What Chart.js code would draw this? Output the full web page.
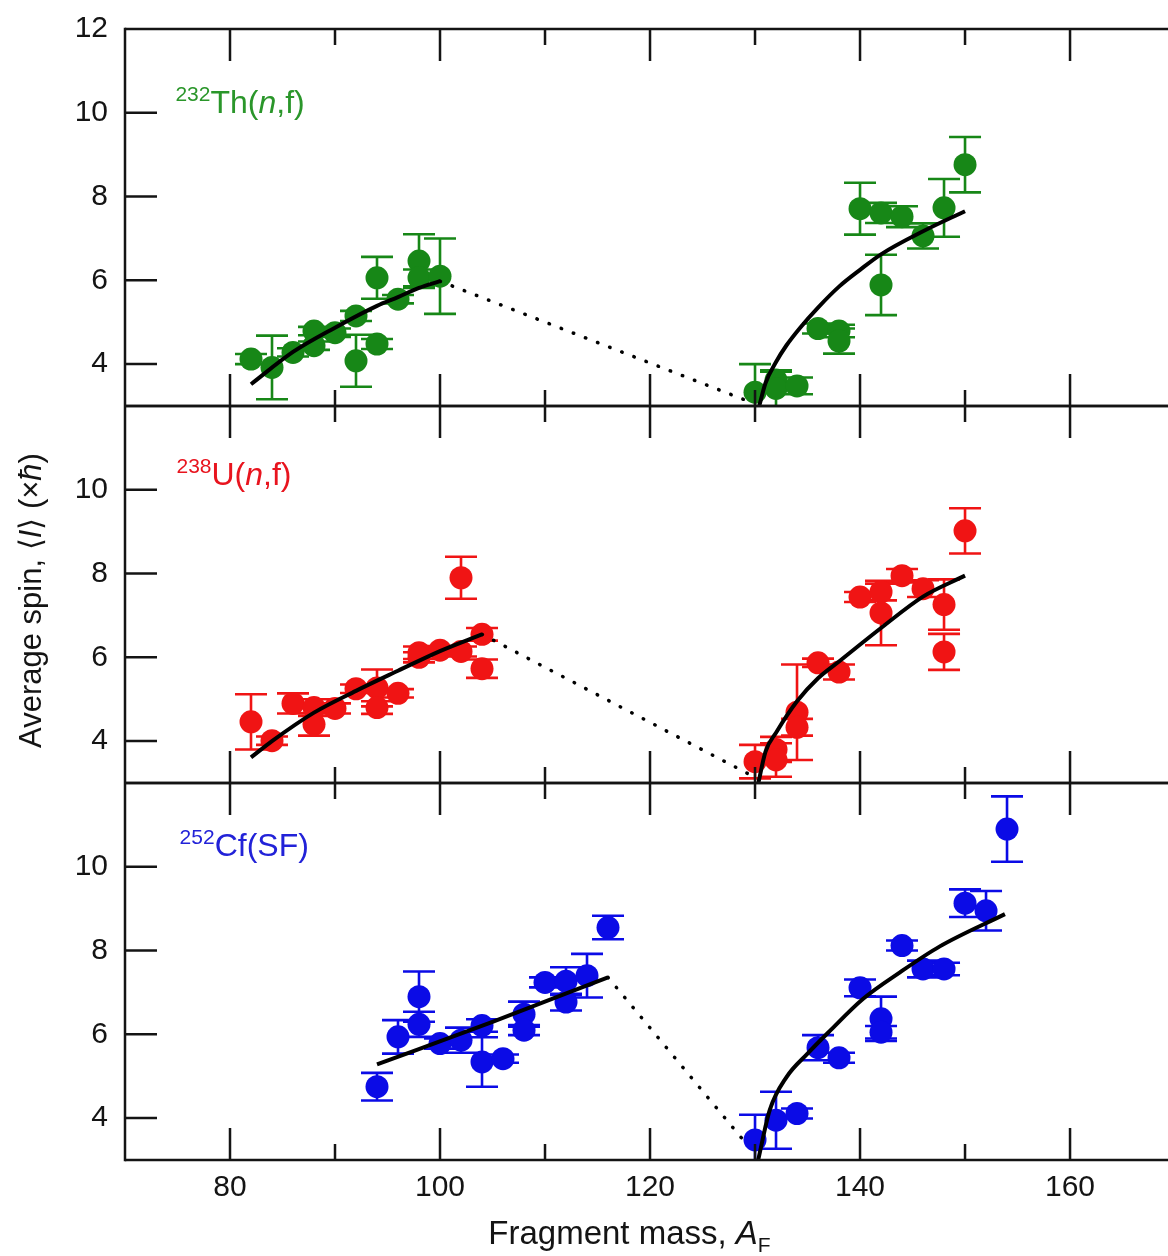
<!DOCTYPE html>
<html>
<head>
<meta charset="utf-8">
<script src="https://cdn.jsdelivr.net/npm/chart.js"></script>
<style>
html, body { margin: 0; padding: 0; background: #fff; }
#wrap { position: relative; width: 1168px; height: 1256px; }
</style>
</head>
<body>
<div id="wrap"><canvas id="spinChart" width="1168" height="1256"></canvas></div>
<script>
// 232Th(n,f): fragment mass, average spin, error
const thMass = [82, 84, 86, 88, 88, 90, 92, 92, 94, 94, 96, 98, 98, 100,
                130, 132, 132, 134, 136, 138, 138, 140, 142, 142, 144, 146, 148, 150];
const thSpin = [4.12, 3.92, 4.28, 4.79, 4.44, 4.75, 5.15, 4.08, 6.06, 4.48, 5.55, 6.46, 6.06, 6.1,
                3.33, 3.62, 3.42, 3.48, 4.85, 4.79, 4.55, 7.71, 7.61, 5.89, 7.52, 7.06, 7.73, 8.76];
const thErr  = [0.12, 0.76, 0.1, 0.1, 0.1, 0.1, 0.12, 0.62, 0.5, 0.12, 0.1, 0.64, 0.2, 0.9,
                0.67, 0.2, 0.43, 0.2, 0.12, 0.15, 0.3, 0.62, 0.24, 0.72, 0.25, 0.3, 0.69, 0.66];

// 238U(n,f)
const uMass = [82, 84, 86, 88, 88, 90, 92, 94, 94, 96, 98, 98, 100, 102, 102, 104, 104,
               130, 132, 132, 134, 134, 136, 138, 140, 142, 142, 144, 146, 148, 148, 150];
const uSpin = [4.46, 4.01, 4.9, 4.8, 4.4, 4.78, 5.25, 5.27, 4.8, 5.14, 6.11, 6.0, 6.17, 7.9, 6.14, 6.55, 5.73,
               3.51, 3.8, 3.55, 4.69, 4.33, 5.87, 5.65, 7.44, 7.56, 7.06, 7.95, 7.64, 7.26, 6.13, 9.02];
const uErr  = [0.66, 0.1, 0.24, 0.2, 0.27, 0.12, 0.1, 0.44, 0.15, 0.1, 0.15, 0.12, 0.1, 0.5, 0.12, 0.15, 0.22,
               0.4, 0.3, 0.4, 1.14, 0.2, 0.1, 0.18, 0.12, 0.2, 0.77, 0.16, 0.2, 0.6, 0.43, 0.54];

// 252Cf(SF)
const cfMass = [94, 96, 98, 98, 100, 102, 104, 104, 106, 108, 108, 110, 112, 112, 114, 116,
                130, 132, 134, 136, 138, 140, 142, 142, 144, 146, 148, 150, 152, 154];
const cfSpin = [4.75, 5.94, 6.9, 6.24, 5.78, 5.86, 6.21, 5.34, 5.42, 6.48, 6.1, 7.24, 7.27, 6.77, 7.4, 8.55,
                3.48, 3.95, 4.11, 5.68, 5.44, 7.11, 6.37, 6.05, 8.12, 7.56, 7.56, 9.13, 8.95, 10.9];
const cfErr  = [0.33, 0.4, 0.6, 0.3, 0.12, 0.3, 0.15, 0.59, 0.1, 0.3, 0.12, 0.12, 0.33, 0.2, 0.52, 0.28,
                0.6, 0.68, 0.12, 0.3, 0.12, 0.2, 0.53, 0.15, 0.12, 0.2, 0.15, 0.33, 0.47, 0.78];

// fit curves (light / heavy fragments) and dotted connectors
const thLightX = [82, 86, 90, 94, 96, 98, 100];
const thLightY = [3.52, 4.29, 4.87, 5.39, 5.6, 5.82, 5.98];
const thHeavyX = [130.4, 131, 132, 133, 134.3, 136, 138, 140, 142, 146, 150];
const thHeavyY = [3.0, 3.55, 4.05, 4.45, 4.87, 5.35, 5.85, 6.25, 6.62, 7.17, 7.65];
const thDotX = [100, 129.5];
const thDotY = [5.98, 3.1];

const uLightX = [82, 84, 88, 92, 96, 100, 104];
const uLightY = [3.61, 4.0, 4.68, 5.2, 5.68, 6.15, 6.55];
const uHeavyX = [130.3, 131, 132, 134, 136, 138, 142, 146, 150];
const uHeavyY = [2.98, 3.75, 4.2, 4.95, 5.5, 5.9, 6.7, 7.45, 7.95];
const uDotX = [104, 129.5];
const uDotY = [6.55, 3.2];

const cfLightX = [94, 105, 116];
const cfLightY = [5.28, 6.3, 7.36];
const cfHeavyX = [130.3, 131.4, 133, 135, 137, 140.3, 143.8, 147.6, 153.8];
const cfHeavyY = [3.0, 4.19, 4.98, 5.54, 6.05, 6.85, 7.48, 8.1, 8.87];
const cfDotX = [116, 129.3];
const cfDotY = [7.36, 3.35];

// axes
const xMajorTicks = [80, 100, 120, 140, 160];
const xMinorTicks = [90, 110, 130, 150];
const yTicks = [4, 6, 8, 10];
const yTopTicks = [4, 6, 8, 10, 12];

const FONT = '"Liberation Sans", Arial, Helvetica, sans-serif';
const INK = '#141414';

const panels = [
    { axis: 'yTh', color: '#178717', text: '#2a962a', iso: '232',
      parts: [['Th(', ''], ['n', 'italic '], [',f)', '']], lx: 74.8, ly: 10.0 },
    { axis: 'yU', color: '#f01414', text: '#e8141e', iso: '238',
      parts: [['U(', ''], ['n', 'italic '], [',f)', '']], lx: 74.9, ly: 10.12 },
    { axis: 'yCf', color: '#0b0be6', text: '#2222d8', iso: '252',
      parts: [['Cf(SF)', '']], lx: 75.2, ly: 10.25 }
];

function pts(xs, ys) {
    return xs.map((x, i) => ({ x: x, y: ys[i] }));
}

function drawParts(ctx, parts, x, y, align) {
    let total = 0;
    parts.forEach(p => { ctx.font = p.font; total += ctx.measureText(p.text).width; });
    let cx = align === 'center' ? x - total / 2 : x;
    parts.forEach(p => {
        ctx.font = p.font;
        ctx.fillText(p.text, cx, y + (p.dy || 0));
        cx += ctx.measureText(p.text).width;
    });
}

function fitSet(xs, ys, axis, dotted) {
    return {
        data: pts(xs, ys),
        yAxisID: axis,
        showLine: true,
        borderColor: '#000',
        borderWidth: dotted ? 3.5 : 4,
        borderDash: dotted ? [0.5, 12.5] : [],
        borderCapStyle: dotted ? 'round' : 'butt',
        pointRadius: 0,
        cubicInterpolationMode: 'monotone',
        fill: false,
        order: 0
    };
}

function pointSet(xs, ys, errs, axis, color) {
    return {
        data: pts(xs, ys),
        errors: errs,
        yAxisID: axis,
        showLine: false,
        backgroundColor: color,
        borderColor: color,
        borderWidth: 0,
        pointRadius: 11.5,
        order: 1
    };
}

const panelFrame = {
    id: 'panelFrame',
    beforeDatasetsDraw(chart) {
        const ctx = chart.ctx;
        const area = chart.chartArea;
        chart.data.datasets.forEach((ds, i) => {
            if (!ds.errors) return;
            const meta = chart.getDatasetMeta(i);
            const ys = chart.scales[ds.yAxisID];
            ctx.save();
            ctx.beginPath();
            ctx.rect(area.left, ys.top, area.right - area.left, ys.bottom - ys.top);
            ctx.clip();
            ctx.strokeStyle = ds.borderColor;
            ctx.lineWidth = 2.6;
            meta.data.forEach((pt, j) => {
                const v = ds.data[j].y, e = ds.errors[j];
                const y1 = ys.getPixelForValue(v + e);
                const y2 = ys.getPixelForValue(v - e);
                ctx.beginPath();
                ctx.moveTo(pt.x, y1); ctx.lineTo(pt.x, y2);
                ctx.moveTo(pt.x - 16, y1); ctx.lineTo(pt.x + 16, y1);
                ctx.moveTo(pt.x - 16, y2); ctx.lineTo(pt.x + 16, y2);
                ctx.stroke();
            });
            ctx.restore();
        });
    },
    afterDatasetsDraw(chart) {
        const ctx = chart.ctx;
        const area = chart.chartArea;
        const xs = chart.scales.x;
        ctx.save();
        ctx.strokeStyle = INK;
        ctx.lineWidth = 2.5;
        ctx.lineCap = 'butt';

        panels.forEach(p => {
            const ys = chart.scales[p.axis];
            ctx.beginPath();
            ctx.moveTo(area.left, ys.top); ctx.lineTo(area.right, ys.top);
            ctx.moveTo(area.left, ys.bottom); ctx.lineTo(area.right, ys.bottom);
            xMajorTicks.forEach(v => {
                const x = xs.getPixelForValue(v);
                ctx.moveTo(x, ys.top); ctx.lineTo(x, ys.top + 32);
                ctx.moveTo(x, ys.bottom); ctx.lineTo(x, ys.bottom - 32);
            });
            xMinorTicks.forEach(v => {
                const x = xs.getPixelForValue(v);
                ctx.moveTo(x, ys.top); ctx.lineTo(x, ys.top + 16);
                ctx.moveTo(x, ys.bottom); ctx.lineTo(x, ys.bottom - 16);
            });
            yTicks.forEach(v => {
                const y = ys.getPixelForValue(v);
                ctx.moveTo(area.left, y); ctx.lineTo(area.left + 32, y);
            });
            ctx.stroke();

            // panel label
            ctx.fillStyle = p.text;
            ctx.textAlign = 'left';
            ctx.textBaseline = 'alphabetic';
            const parts = [{ text: p.iso, font: '21px ' + FONT, dy: -12 }];
            p.parts.forEach(q => parts.push({ text: q[0], font: q[1] + '32px ' + FONT }));
            drawParts(ctx, parts, xs.getPixelForValue(p.lx), ys.getPixelForValue(p.ly), 'left');
        });

        ctx.beginPath();
        ctx.moveTo(area.left, area.top - 1.25);
        ctx.lineTo(area.left, area.bottom + 1.25);
        ctx.stroke();

        // axis titles
        ctx.fillStyle = INK;
        ctx.textAlign = 'left';
        ctx.textBaseline = 'alphabetic';
        drawParts(ctx, [
            { text: 'Fragment mass, ', font: '33px ' + FONT },
            { text: 'A', font: 'italic 33px ' + FONT },
            { text: 'F', font: '21px ' + FONT, dy: 8 }
        ], (area.left + area.right) / 2 - 17, 1244, 'center');

        const yMid = chart.scales.yU;
        ctx.translate(41, (yMid.top + yMid.bottom) / 2 + 6);
        ctx.rotate(-Math.PI / 2);
        drawParts(ctx, [
            { text: 'Average spin, \u27E8', font: '31px ' + FONT },
            { text: 'I', font: 'italic 31px ' + FONT },
            { text: '\u27E9 (\u00D7', font: '31px ' + FONT },
            { text: '\u0127', font: 'italic 31px ' + FONT },
            { text: ')', font: '31px ' + FONT }
        ], 0, 0, 'center');
        ctx.restore();
    }
};

function yAxis(tickList) {
    return {
        type: 'linear',
        position: 'left',
        stack: 'spin',
        stackWeight: 1,
        min: 3,
        max: 12,
        grid: { display: false, drawTicks: false },
        border: { display: false },
        ticks: {
            color: INK,
            padding: 17,
            font: { family: FONT, size: 30 }
        },
        afterBuildTicks: s => { s.ticks = tickList.map(v => ({ value: v })); },
        afterFit: s => {
            s.width = 125;
            s.paddingTop = 0;
            s.paddingBottom = 0;
        }
    };
}

const ctx = document.getElementById('spinChart');
new Chart(ctx, {
    type: 'scatter',
    data: {
        datasets: [
            fitSet(thLightX, thLightY, 'yTh', false),
            fitSet(thHeavyX, thHeavyY, 'yTh', false),
            fitSet(thDotX, thDotY, 'yTh', true),
            fitSet(uLightX, uLightY, 'yU', false),
            fitSet(uHeavyX, uHeavyY, 'yU', false),
            fitSet(uDotX, uDotY, 'yU', true),
            fitSet(cfLightX, cfLightY, 'yCf', false),
            fitSet(cfHeavyX, cfHeavyY, 'yCf', false),
            fitSet(cfDotX, cfDotY, 'yCf', true),
            pointSet(thMass, thSpin, thErr, 'yTh', panels[0].color),
            pointSet(uMass, uSpin, uErr, 'yU', panels[1].color),
            pointSet(cfMass, cfSpin, cfErr, 'yCf', panels[2].color)
        ]
    },
    options: {
        responsive: false,
        devicePixelRatio: 1,
        animation: false,
        events: [],
        layout: { autoPadding: false, padding: { top: 29, right: 0, left: 0, bottom: 0 } },
        scales: {
            x: {
                type: 'linear',
                position: 'bottom',
                min: 70,
                max: 169.33,
                grid: { display: false, drawTicks: false },
                border: { display: false },
                ticks: {
                    color: INK,
                    padding: 10,
                    maxRotation: 0,
                    font: { family: FONT, size: 30 }
                },
                afterBuildTicks: s => { s.ticks = xMajorTicks.map(v => ({ value: v })); },
                afterFit: s => {
                    s.height = 96;
                    s.paddingLeft = 0;
                    s.paddingRight = 0;
                }
            },
            yCf: yAxis(yTicks),
            yU: yAxis(yTicks),
            yTh: yAxis(yTopTicks)
        },
        plugins: {
            legend: { display: false },
            tooltip: { enabled: false }
        }
    },
    plugins: [panelFrame]
});
</script>
</body>
</html>
